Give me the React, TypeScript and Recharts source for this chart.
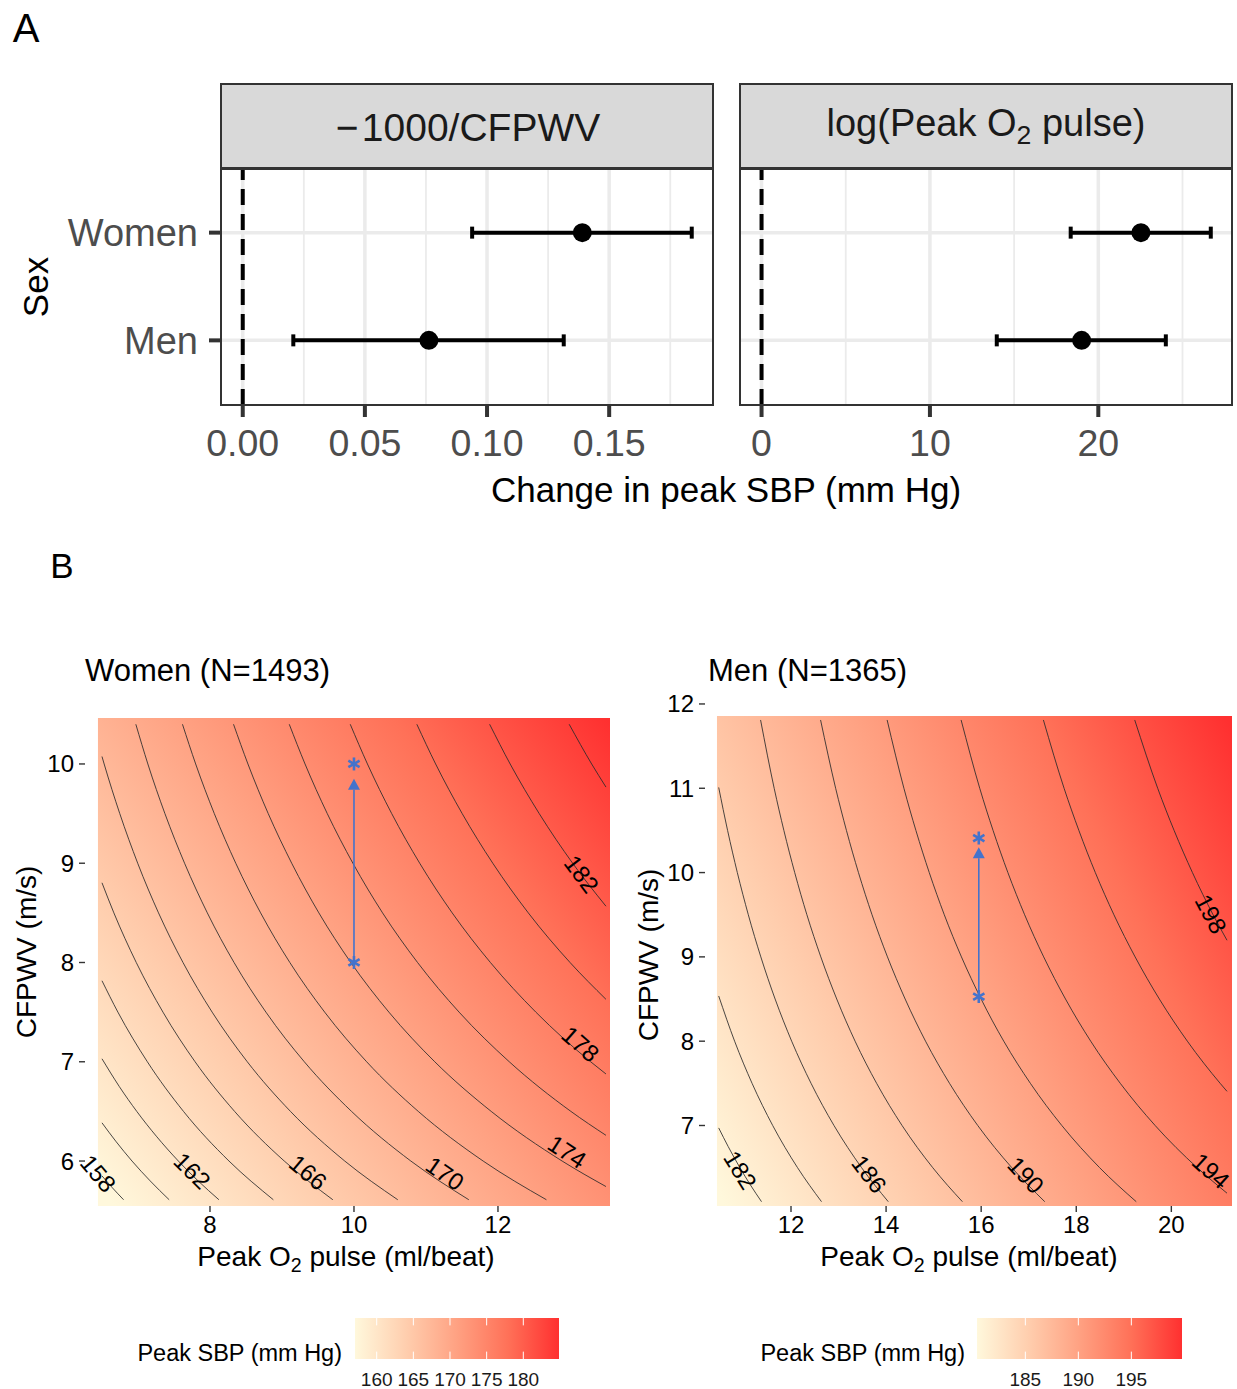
import React from "react";
import {
  ComposedChart,
  Scatter,
  Line,
  XAxis,
  YAxis,
  ReferenceLine,
  ReferenceArea,
  ErrorBar,
} from "recharts";

const FONT = '"Liberation Sans", Arial, Helvetica, sans-serif';
const BLUE = "#4473CC";

// ---------------- Panel A data ----------------
const sexCategories = ["Men", "Women"]; // y = 1, 2
const cfpwvEstimate = [0.0762, 0.139];
const cfpwvLower = [0.0207, 0.0939];
const cfpwvUpper = [0.1314, 0.1838];
const o2Estimate = [19.01, 22.53];
const o2Lower = [13.97, 18.36];
const o2Upper = [24.01, 26.68];
const cfpwvMajorTicks = [0, 0.05, 0.1, 0.15];
const cfpwvMinorTicks = [0.025, 0.075, 0.125, 0.175];
const o2MajorTicks = [0, 10, 20];
const o2MinorTicks = [5, 15, 25];
const cfpwvDomain = [-0.0089, 0.1925];
const o2Domain = [-1.28, 27.94];
const sexDomain = [0.4, 2.6];
const sexTicks = [1, 2];

// ---------------- Panel B data: Women ----------------
const womenXTicks = [8, 10, 12];
const womenYTicks = [6, 7, 8, 9, 10];
const womenXDomain = [6.264, 13.556];
const womenYDomain = [5.547, 10.463];
const womenRasterX = [6.444, 13.556];
const womenRasterY = [5.547, 10.463];
const womenContourLevels = [158, 160, 162, 164, 166, 168, 170, 172, 174, 176, 178, 180, 182, 184];
const womenContours = [
  [[6.5, 5.85], [6.645, 5.73], [6.8, 5.61]],
  [[6.5, 6.385], [6.691, 6.2], [6.917, 6.0], [7.169, 5.8], [7.433, 5.61]],
  [[6.5, 7.03], [6.741, 6.75], [6.983, 6.5], [7.255, 6.25], [7.561, 6.0], [7.835, 5.8], [8.124, 5.61]],
  [[6.5, 7.816], [6.721, 7.5], [7.13, 7.0], [7.632, 6.5], [8.264, 6.0], [8.88, 5.61]],
  [[6.5, 8.803], [6.665, 8.5], [6.976, 8.0], [7.347, 7.5], [7.793, 7.0], [8.342, 6.5], [9.032, 6.0], [9.706, 5.61]],
  [[6.5, 10.075], [6.53, 10.0], [6.747, 9.5], [6.996, 9.0], [7.285, 8.5], [7.625, 8.0], [8.03, 7.5], [8.518, 7.0], [9.118, 6.5], [9.872, 6.0], [10.608, 5.61]],
  [[6.97, 10.4], [7.137, 10.0], [7.374, 9.5], [7.647, 9.0], [7.963, 8.5], [8.334, 8.0], [8.777, 7.5], [9.31, 7.0], [9.966, 6.5], [10.79, 6.0], [11.595, 5.61]],
  [[7.618, 10.4], [7.801, 10.0], [8.06, 9.5], [8.358, 9.0], [8.703, 8.5], [9.109, 8.0], [9.593, 7.5], [10.176, 7.0], [10.893, 6.5], [11.794, 6.0], [12.673, 5.61]],
  [[8.327, 10.4], [8.527, 10.0], [8.809, 9.5], [9.135, 9.0], [9.512, 8.5], [9.956, 8.0], [10.485, 7.5], [11.122, 7.0], [11.906, 6.5], [12.891, 6.0], [13.5, 5.743]],
  [[9.101, 10.4], [9.32, 10.0], [9.629, 9.5], [9.985, 9.0], [10.397, 8.5], [10.883, 8.0], [11.46, 7.5], [12.157, 7.0], [13.013, 6.5], [13.5, 6.259]],
  [[9.948, 10.4], [10.187, 10.0], [10.524, 9.5], [10.913, 9.0], [11.364, 8.5], [11.895, 8.0], [12.526, 7.5], [13.287, 7.0], [13.5, 6.877]],
  [[10.873, 10.4], [11.134, 10.0], [11.503, 9.5], [11.928, 9.0], [12.421, 8.5], [13.001, 8.0], [13.5, 7.629]],
  [[11.884, 10.4], [12.169, 10.0], [12.573, 9.5], [13.037, 9.0], [13.5, 8.567]],
  [[12.989, 10.4], [13.301, 10.0], [13.5, 9.767]],
];
const womenLabelLevels = [158, 162, 166, 170, 174, 178, 182];
const womenLabelX = [6.448, 7.754, 9.365, 11.264, 12.962, 13.148, 13.162];
const womenLabelY = [5.876, 5.902, 5.886, 5.876, 6.094, 7.179, 8.892];
const womenLabelAngle = [50, 45, 40, 35, 33, 41, 53];
const womenArrowLine = [[10, 8.0], [10, 9.74]];
const womenArrowTip = [[10, 9.85]];
const womenStars = [[10, 8.0], [10, 10.0]];
const womenLegendTicks = [160, 165, 170, 175, 180];
const womenLegendRange = [157.04, 184.87];

// ---------------- Panel B data: Men ----------------
const menXTicks = [12, 14, 16, 18, 20];
const menYTicks = [7, 8, 9, 10, 11, 12];
const menXDomain = [10.191, 21.276];
const menYDomain = [6.045, 12.047];
const menRasterX = [10.443, 21.276];
const menRasterY = [6.045, 11.858];
const menContourLevels = [182, 184, 186, 188, 190, 192, 194, 196, 198];
const menContours = [
  [[10.479, 6.971], [10.679, 6.75], [10.925, 6.5], [11.14, 6.3], [11.38, 6.096]],
  [[10.479, 8.536], [10.814, 8.0], [11.181, 7.5], [11.615, 7.0], [12.137, 6.5], [12.642, 6.096]],
  [[10.479, 11.01], [10.666, 10.5], [10.871, 10.0], [11.102, 9.5], [11.365, 9.0], [11.666, 8.5], [12.014, 8.0], [12.422, 7.5], [12.904, 7.0], [13.484, 6.5], [14.046, 6.096]],
  [[11.36, 11.81], [11.646, 11.0], [11.85, 10.5], [12.078, 10.0], [12.334, 9.5], [12.627, 9.0], [12.962, 8.5], [13.348, 8.0], [13.801, 7.5], [14.336, 7.0], [14.981, 6.5], [15.605, 6.096]],
  [[12.622, 11.81], [12.939, 11.0], [13.166, 10.5], [13.419, 10.0], [13.704, 9.5], [14.029, 9.0], [14.401, 8.5], [14.83, 8.0], [15.334, 7.5], [15.928, 7.0], [16.644, 6.5], [17.338, 6.096]],
  [[14.022, 11.81], [14.375, 11.0], [14.627, 10.5], [14.908, 10.0], [15.224, 9.5], [15.585, 9.0], [15.999, 8.5], [16.475, 8.0], [17.035, 7.5], [17.696, 7.0], [18.491, 6.5], [19.262, 6.096]],
  [[15.578, 11.81], [15.97, 11.0], [16.25, 10.5], [16.562, 10.0], [16.914, 9.5], [17.315, 9.0], [17.774, 8.5], [18.304, 8.0], [18.926, 7.5], [19.659, 7.0], [20.543, 6.5], [21.171, 6.197]],
  [[17.309, 11.81], [17.744, 11.0], [18.055, 10.5], [18.401, 10.0], [18.792, 9.5], [19.238, 9.0], [19.748, 8.5], [20.337, 8.0], [21.027, 7.5], [21.171, 7.405]],
  [[19.23, 11.81], [19.713, 11.0], [20.058, 10.5], [20.444, 10.0], [20.878, 9.5], [21.171, 9.197]],
];
const menLabelLevels = [182, 186, 190, 194, 198];
const menLabelX = [10.934, 13.647, 16.943, 20.835, 20.835];
const menLabelY = [6.472, 6.425, 6.413, 6.464, 9.509];
const menLabelAngle = [58, 53, 47, 42, 62];
const menArrowLine = [[15.95, 8.53], [15.95, 10.17]];
const menArrowTip = [[15.95, 10.3]];
const menStars = [[15.95, 8.53], [15.95, 10.41]];
const menLegendTicks = [185, 190, 195];
const menLegendRange = [180.44, 199.78];

// colour ramp (low -> high, interpolated in Lab like ggplot)
const rampStops = ["#FFF8DC", "#FFCEAE", "#FFA182", "#FF7158", "#FF3030"];

// ---------------- helpers ----------------
const toXY = (pts: number[][]) => pts.map(([x, y]) => ({ x, y }));

const Txt = ({ x, y, size, color = "#000", anchor = "middle", rotate = 0, children }: any) => (
  <div
    style={{
      position: "absolute",
      left: x,
      top: y,
      transform: `translate(${anchor === "middle" ? "-50%" : anchor === "end" ? "-100%" : "0"}, -50%) rotate(${rotate}deg)`,
      fontSize: size,
      color,
      whiteSpace: "nowrap",
      lineHeight: 1,
      fontFamily: FONT,
      pointerEvents: "none",
    }}
  >
    {children}
  </div>
);

const Sub = ({ children }: any) => (
  <span style={{ fontSize: "0.7em", verticalAlign: "-0.3em", lineHeight: 0 }}>{children}</span>
);

const PointShape = (p: any) => <circle cx={p.cx} cy={p.cy} r={9.5} fill="#000" />;

const ContourLabel = (p: any) => (
  <text
    x={p.cx}
    y={p.cy}
    transform={`rotate(${p.payload.angle} ${p.cx} ${p.cy})`}
    textAnchor="middle"
    dy="0.36em"
    fontSize={24}
    fontFamily={FONT}
    fill="#000"
  >
    {p.payload.label}
  </text>
);

const ArrowHead = (p: any) => (
  <polygon points={`${p.cx},${p.cy} ${p.cx - 6},${p.cy + 11} ${p.cx + 6},${p.cy + 11}`} fill={BLUE} />
);

const Asterisk = (p: any) => {
  const r = 6.5;
  const dx = r * Math.cos(Math.PI / 6);
  const dy = r * Math.sin(Math.PI / 6);
  return (
    <g stroke={BLUE} strokeWidth={2.6} strokeLinecap="butt">
      <line x1={p.cx} y1={p.cy - r} x2={p.cx} y2={p.cy + r} />
      <line x1={p.cx - dx} y1={p.cy - dy} x2={p.cx + dx} y2={p.cy + dy} />
      <line x1={p.cx - dx} y1={p.cy + dy} x2={p.cx + dx} y2={p.cy - dy} />
    </g>
  );
};

// ---------------- Panel A facet ----------------
function ForestFacet({ left, width, margin, domain, majorTicks, minorTicks, est, lo, hi, showY, fmt }: any) {
  const rows = est.map((e: number, i: number) => ({ x: e, y: i + 1, err: [e - lo[i], hi[i] - e] }));
  return (
    <div style={{ position: "absolute", left, top: 0 }}>
      <ComposedChart width={width} height={530} margin={margin}>
        <XAxis
          type="number"
          dataKey="x"
          domain={domain}
          ticks={majorTicks}
          interval={0}
          tickFormatter={fmt}
          axisLine={false}
          tickLine={{ stroke: "#333", strokeWidth: 4 }}
          tickSize={12}
          tickMargin={12}
          tick={{ fontSize: 37.5, fill: "#4D4D4D", fontFamily: FONT }}
          height={70}
        />
        <YAxis
          type="number"
          dataKey="y"
          domain={sexDomain}
          ticks={sexTicks}
          interval={0}
          hide={!showY}
          tickFormatter={(v: number) => sexCategories[v - 1]}
          width={150}
          axisLine={false}
          tickLine={{ stroke: "#333", strokeWidth: 4 }}
          tickSize={12}
          tickMargin={11}
          tick={{ fontSize: 38, fill: "#4D4D4D", fontFamily: FONT }}
        />
        {minorTicks.map((v: number) => (
          <ReferenceLine key={"m" + v} x={v} stroke="#EBEBEB" strokeWidth={1.8} />
        ))}
        {majorTicks.map((v: number) => (
          <ReferenceLine key={"M" + v} x={v} stroke="#EBEBEB" strokeWidth={3.5} />
        ))}
        {sexTicks.map((v: number) => (
          <ReferenceLine key={"h" + v} y={v} stroke="#EBEBEB" strokeWidth={3.5} />
        ))}
        <ReferenceLine x={0} stroke="#000" strokeWidth={4} strokeDasharray="16 9" />
        <Scatter data={rows} dataKey="y" isAnimationActive={false} shape={PointShape}>
          <ErrorBar dataKey="err" direction="x" width={6} strokeWidth={4} stroke="#000" />
        </Scatter>
      </ComposedChart>
    </div>
  );
}

// ---------------- Panel B contour plot ----------------
function ContourPanel({ left, width, margin, xDomain, yDomain, xTicks, yTicks, rasterX, rasterY, gradId, contours, labels, arrowLine, arrowTip, stars }: any) {
  const axisTick = { fontSize: 24, fill: "#000", fontFamily: FONT };
  return (
    <div style={{ position: "absolute", left, top: 640 }}>
      <ComposedChart width={width} height={640} margin={margin}>
        <XAxis
          type="number"
          dataKey="x"
          domain={xDomain}
          ticks={xTicks}
          interval={0}
          axisLine={false}
          tickLine={{ stroke: "#333", strokeWidth: 1.4 }}
          tickSize={6}
          tickMargin={4}
          tick={axisTick}
          height={60}
        />
        <YAxis
          type="number"
          dataKey="y"
          domain={yDomain}
          ticks={yTicks}
          interval={0}
          axisLine={false}
          tickLine={{ stroke: "#333", strokeWidth: 1.4 }}
          tickSize={6}
          tickMargin={5}
          tick={axisTick}
          width={85}
        />
        <ReferenceArea
          x1={rasterX[0]}
          x2={rasterX[1]}
          y1={rasterY[0]}
          y2={rasterY[1]}
          fill={`url(#${gradId})`}
          fillOpacity={1}
          stroke="none"
        />
        {contours.map((pts: number[][], i: number) => (
          <Line
            key={i}
            data={toXY(pts)}
            dataKey="y"
            type="monotone"
            stroke="#2a2a2a"
            strokeWidth={1}
            strokeOpacity={0.85}
            dot={false}
            activeDot={false}
            isAnimationActive={false}
          />
        ))}
        <Line
          data={toXY(arrowLine)}
          dataKey="y"
          type="linear"
          stroke={BLUE}
          strokeWidth={1.6}
          dot={false}
          activeDot={false}
          isAnimationActive={false}
        />
        <Scatter data={toXY(arrowTip)} dataKey="y" shape={ArrowHead} isAnimationActive={false} />
        <Scatter data={toXY(stars)} dataKey="y" shape={Asterisk} isAnimationActive={false} />
        <Scatter data={labels} dataKey="y" shape={ContourLabel} isAnimationActive={false} />
      </ComposedChart>
    </div>
  );
}

function ColorBar({ left, top, width, height, range, ticks, gid }: any) {
  const [mn, mx] = range;
  return (
    <svg style={{ position: "absolute", left, top, overflow: "visible" }} width={width} height={height + 40}>
      <defs>
        <linearGradient id={gid} x1="0" y1="0" x2="1" y2="0">
          {rampStops.map((c, i) => (
            <stop key={i} offset={i / (rampStops.length - 1)} stopColor={c} />
          ))}
        </linearGradient>
      </defs>
      <rect x={0} y={0} width={width} height={height} fill={`url(#${gid})`} />
      {ticks.map((t: number) => {
        const x = ((t - mn) / (mx - mn)) * width;
        return (
          <g key={t}>
            <line x1={x} x2={x} y1={0} y2={height * 0.18} stroke="#fff" strokeWidth={1} />
            <line x1={x} x2={x} y1={height * 0.82} y2={height} stroke="#fff" strokeWidth={1} />
            <text x={x} y={height + 20.5} dy="0.36em" textAnchor="middle" fontSize={19} fontFamily={FONT} fill="#1A1A1A">
              {t}
            </text>
          </g>
        );
      })}
    </svg>
  );
}

const stripStyle = (left: number): React.CSSProperties => ({
  position: "absolute",
  left,
  top: 83,
  width: 494,
  height: 87,
  boxSizing: "border-box",
  border: "2px solid #333",
  background: "#D9D9D9",
});
const borderStyle = (left: number): React.CSSProperties => ({
  position: "absolute",
  left,
  top: 167,
  width: 494,
  height: 239,
  boxSizing: "border-box",
  border: "2px solid #333",
  pointerEvents: "none",
});

export default function App() {
  const womenLabels = womenLabelLevels.map((l, i) => ({ x: womenLabelX[i], y: womenLabelY[i], label: String(l), angle: womenLabelAngle[i] }));
  const menLabels = menLabelLevels.map((l, i) => ({ x: menLabelX[i], y: menLabelY[i], label: String(l), angle: menLabelAngle[i] }));
  return (
    <div style={{ position: "absolute", left: 0, top: 0, width: 1237, height: 1389, background: "#fff", fontFamily: FONT, overflow: "hidden" }}>
      {/* raster gradients */}
      <svg width={0} height={0} style={{ position: "absolute" }}>
        <defs>
          <linearGradient id="gradWomen" x1="-0.048" y1="0.887" x2="1.064" y2="0.1015">
            {rampStops.map((c, i) => (
              <stop key={i} offset={i / (rampStops.length - 1)} stopColor={c} />
            ))}
          </linearGradient>
          <linearGradient id="gradMen" x1="-0.09" y1="0.768" x2="1.092" y2="0.231">
            {rampStops.map((c, i) => (
              <stop key={i} offset={i / (rampStops.length - 1)} stopColor={c} />
            ))}
          </linearGradient>
        </defs>
      </svg>

      {/* ---------- Panel A ---------- */}
      <Txt x={26} y={28} size={40}>A</Txt>
      <ForestFacet
        left={0}
        width={730}
        margin={{ top: 168, right: 17, bottom: 55, left: 71 }}
        domain={cfpwvDomain}
        majorTicks={cfpwvMajorTicks}
        minorTicks={cfpwvMinorTicks}
        est={cfpwvEstimate}
        lo={cfpwvLower}
        hi={cfpwvUpper}
        showY={true}
        fmt={(v: number) => v.toFixed(2)}
      />
      <ForestFacet
        left={730}
        width={507}
        margin={{ top: 168, right: 5, bottom: 55, left: 10 }}
        domain={o2Domain}
        majorTicks={o2MajorTicks}
        minorTicks={o2MinorTicks}
        est={o2Estimate}
        lo={o2Lower}
        hi={o2Upper}
        showY={false}
        fmt={(v: number) => String(v)}
      />
      <div style={stripStyle(220)} />
      <div style={stripStyle(739)} />
      <div style={borderStyle(220)} />
      <div style={borderStyle(739)} />
      <Txt x={468} y={127} size={39} color="#1A1A1A">{"\u2212\u200A1000/CFPWV"}</Txt>
      <Txt x={986} y={123} size={38} color="#1A1A1A">
        log(Peak O<Sub>2</Sub> pulse)
      </Txt>
      <Txt x={35} y={287} size={35} rotate={-90}>Sex</Txt>
      <Txt x={726} y={489} size={35}>Change in peak SBP (mm Hg)</Txt>

      {/* ---------- Panel B ---------- */}
      <Txt x={62} y={565} size={35}>B</Txt>
      <Txt x={85} y={670} size={31} anchor="start">Women (N=1493)</Txt>
      <Txt x={708} y={670} size={31} anchor="start">Men (N=1365)</Txt>

      <ContourPanel
        left={0}
        width={620}
        margin={{ top: 78, right: 10, bottom: 14, left: 0 }}
        xDomain={womenXDomain}
        yDomain={womenYDomain}
        xTicks={womenXTicks}
        yTicks={womenYTicks}
        rasterX={womenRasterX}
        rasterY={womenRasterY}
        gradId="gradWomen"
        contours={womenContours}
        labels={womenLabels}
        arrowLine={womenArrowLine}
        arrowTip={womenArrowTip}
        stars={womenStars}
      />
      <ContourPanel
        left={620}
        width={617}
        margin={{ top: 60, right: 5, bottom: 14, left: 0 }}
        xDomain={menXDomain}
        yDomain={menYDomain}
        xTicks={menXTicks}
        yTicks={menYTicks}
        rasterX={menRasterX}
        rasterY={menRasterY}
        gradId="gradMen"
        contours={menContours}
        labels={menLabels}
        arrowLine={menArrowLine}
        arrowTip={menArrowTip}
        stars={menStars}
      />

      <Txt x={27} y={952} size={28} rotate={-90}>CFPWV (m/s)</Txt>
      <Txt x={649} y={955} size={28} rotate={-90}>CFPWV (m/s)</Txt>
      <Txt x={346} y={1257} size={28}>
        Peak O<Sub>2</Sub> pulse (ml/beat)
      </Txt>
      <Txt x={969} y={1257} size={28}>
        Peak O<Sub>2</Sub> pulse (ml/beat)
      </Txt>

      {/* legends */}
      <Txt x={342} y={1354} size={23.5} anchor="end">Peak SBP (mm Hg)</Txt>
      <ColorBar left={355} top={1318} width={204} height={41} range={womenLegendRange} ticks={womenLegendTicks} gid="cbWomen" />
      <Txt x={965} y={1354} size={23.5} anchor="end">Peak SBP (mm Hg)</Txt>
      <ColorBar left={977} top={1318} width={205} height={41} range={menLegendRange} ticks={menLegendTicks} gid="cbMen" />
    </div>
  );
}
